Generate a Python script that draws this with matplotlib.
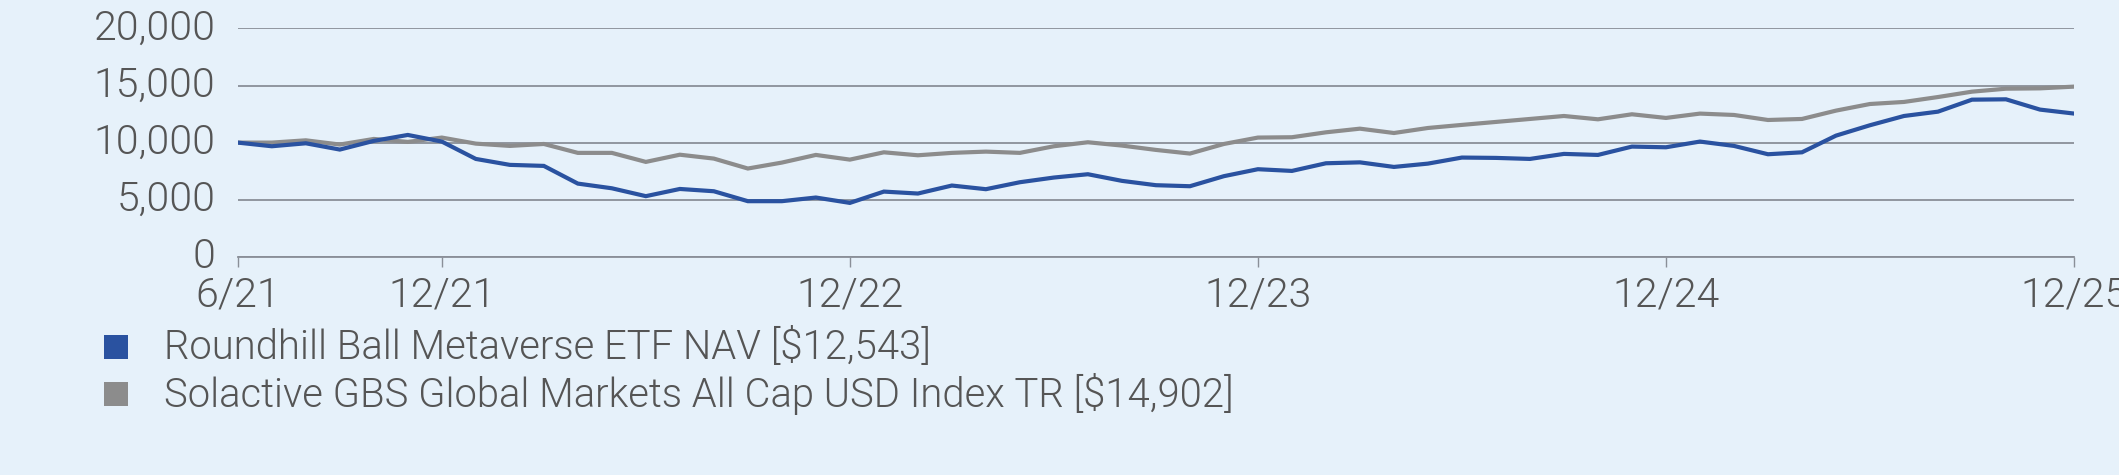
import matplotlib
matplotlib.use("Agg")
import matplotlib.pyplot as plt
from matplotlib import font_manager
from matplotlib.patches import Rectangle
from matplotlib.ticker import FuncFormatter

# ---------------- data ----------------
months = list(range(55))  # monthly points, 6/21 .. 12/25
tick_pos = [0, 6, 18, 30, 42, 54]
tick_labels = ["6/21", "12/21", "12/22", "12/23", "12/24", "12/25"]

fund = [10000, 9680, 9940, 9390, 10150, 10670, 10090, 8570, 8050, 7960,
        6410, 6000, 5310, 5940, 5740, 4870, 4870, 5190, 4720, 5710,
        5540, 6240, 5920, 6530, 6940, 7230, 6650, 6270, 6180, 7060,
        7670, 7520, 8190, 8270, 7870, 8160, 8690, 8660, 8570, 9010,
        8920, 9650, 9590, 10090, 9710, 8980, 9150, 10610, 11520, 12330,
        12710, 13760, 13790, 12890, 12543]
index = [10000, 10000, 10200, 9830, 10320, 10060, 10440, 9910, 9710, 9880,
         9100, 9100, 8310, 8940, 8600, 7730, 8250, 8920, 8510, 9150,
         8890, 9100, 9210, 9100, 9680, 10030, 9740, 9360, 9040, 9880,
         10440, 10470, 10900, 11220, 10840, 11280, 11550, 11810, 12070, 12330,
         12040, 12480, 12160, 12540, 12420, 11980, 12070, 12800, 13380, 13560,
         13990, 14460, 14720, 14750, 14902]
series_names = ["Roundhill Ball Metaverse ETF NAV [$12,543]",
                "Solactive GBS Global Markets All Cap USD Index TR [$14,902]"]
yticks = [0, 5000, 10000, 15000, 20000]

# ---------------- style ----------------
BG = "#E6F1FA"
BLUE = "#2A52A0"
GRAY = "#8C8C8C"
GRID = "#8A8F98"
TXT = "#555555"

plt.rcParams["font.family"] = ["Roboto", "DejaVu Sans"]
plt.rcParams["font.weight"] = 300

W, H = 2119, 475
fig = plt.figure(figsize=(W / 100, H / 100), dpi=100, facecolor=BG)
ax = fig.add_axes([237.8 / W, 1 - 256.8 / H, (2074 - 237.8) / W, (256.8 - 28.4) / H])
ax.set_facecolor(BG)

ax.plot(months, index, color=GRAY, lw=3.0, solid_joinstyle="miter", zorder=3)
ax.plot(months, fund, color=BLUE, lw=3.0, solid_joinstyle="miter", zorder=4)

ax.set_xlim(0, 54)
ax.set_ylim(0, 20000)
ax.set_yticks(yticks)
ax.yaxis.set_major_formatter(FuncFormatter(lambda v, p: f"{int(v):,}"))
ax.set_xticks(tick_pos)
ax.set_xticklabels(tick_labels)
ax.grid(axis="y", color=GRID, lw=1.3, zorder=1)
for s in ["top", "right", "left"]:
    ax.spines[s].set_visible(False)
ax.spines["bottom"].set_color(GRID)
ax.spines["bottom"].set_linewidth(1.3)
ax.tick_params(axis="y", length=0, pad=16, labelsize=29.5, labelcolor=TXT)
ax.tick_params(axis="x", length=7, width=1, color=GRID, pad=7, labelsize=29.5, labelcolor=TXT)
for lbl in ax.get_yticklabels():
    lbl.set_verticalalignment("center")

# legend
colors = [BLUE, GRAY]
rows_y = [346.7, 394.0]
for name, c, yc in zip(series_names, colors, rows_y):
    sq = 24
    fig.add_artist(Rectangle((104 / W, 1 - (yc + sq / 2) / H), sq / W, sq / H,
                             transform=fig.transFigure, facecolor=c, edgecolor="none"))
    fig.text(164 / W, 1 - yc / H, name, fontsize=28.8, color=TXT, va="center", ha="left")

fig.savefig("out.png", dpi=100, facecolor=BG)
